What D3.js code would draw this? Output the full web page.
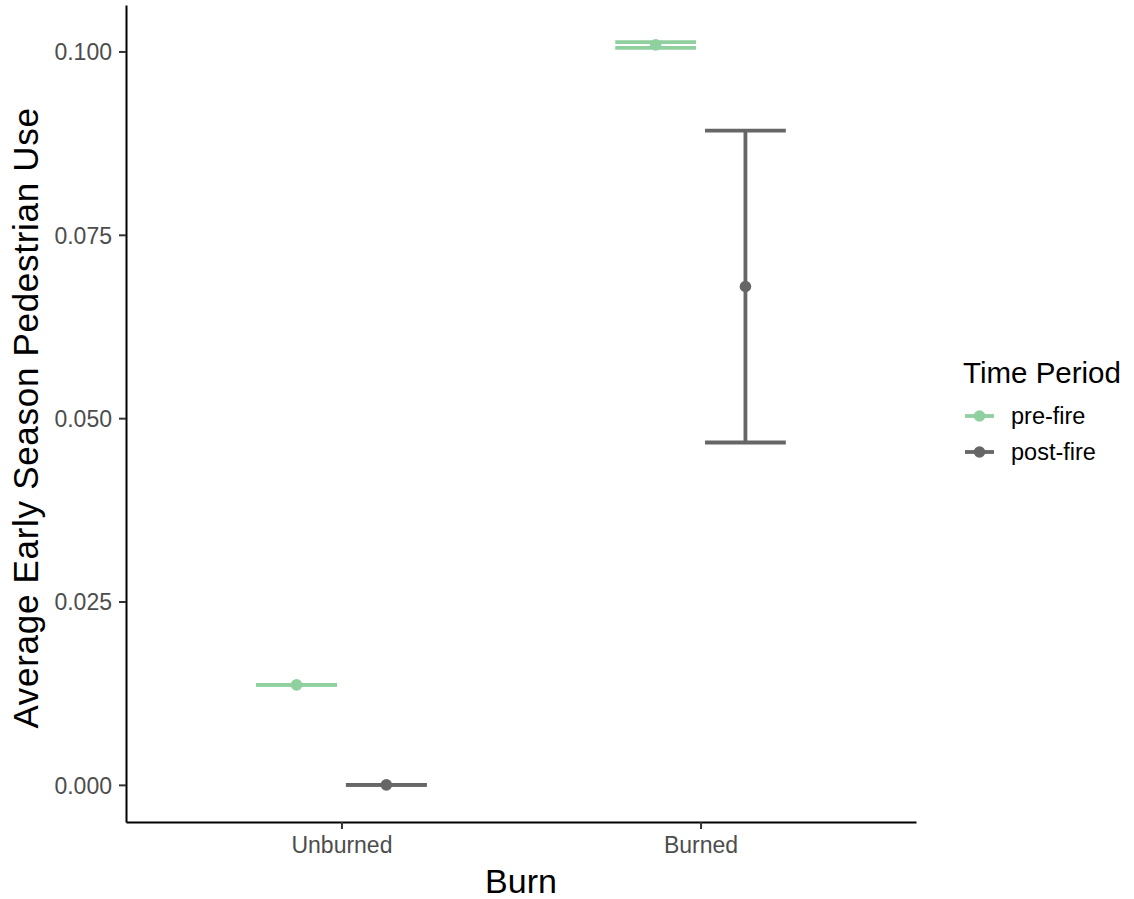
<!DOCTYPE html>
<html>
<head>
<meta charset="utf-8">
<script src="https://cdn.jsdelivr.net/npm/d3@7"></script>
<style>
  body { margin: 0; background: #fff; }
  svg { display: block; font-family: "Liberation Sans", Arial, sans-serif; }
</style>
</head>
<body>
<svg id="chart" width="1134" height="899"></svg>
<script>
// Burn categories and time periods
const categories = ["Unburned", "Burned"];
const periods = ["pre-fire", "post-fire"];

// Mean early-season pedestrian use with error-bar limits, per period
const meanPre = [0.01364, 0.10089];
const lowerPre = [0.01364, 0.10048];
const upperPre = [0.01364, 0.10127];

const meanPost = [0.00000, 0.06795];
const lowerPost = [0.00000, 0.04668];
const upperPost = [0.00000, 0.08920];

const yTicks = [0, 0.025, 0.05, 0.075, 0.1];
const periodColors = ["#90d09f", "#666666"];

const rows = [];
categories.forEach((c, i) => {
  rows.push({ burn: c, period: periods[0], mean: meanPre[i], lo: lowerPre[i], hi: upperPre[i] });
  rows.push({ burn: c, period: periods[1], mean: meanPost[i], lo: lowerPost[i], hi: upperPost[i] });
});

const svg = d3.select("#chart");
const panel = { left: 126, right: 916, top: 5, bottom: 822 };

const x = d3.scalePoint().domain(categories).range([panel.left, panel.right]).padding(0.6);
const step = x.step();
const dodge = d3.scalePoint().domain(periods).range([-0.125 * step, 0.125 * step]);
const capHalf = 0.1125 * step;

const allVals = rows.flatMap(r => [r.lo, r.hi, r.mean]);
const yMin = d3.min(allVals), yMax = d3.max(allVals);
const pad = (yMax - yMin) * 0.05;
const y = d3.scaleLinear().domain([yMin - pad, yMax + pad]).range([panel.bottom, panel.top]);
const color = d3.scaleOrdinal().domain(periods).range(periodColors);

// Axes
const yAxis = svg.append("g")
  .attr("transform", `translate(${panel.left},0)`)
  .call(d3.axisLeft(y).tickValues(yTicks).tickFormat(d3.format(".3f"))
    .tickSizeInner(7).tickSizeOuter(0).tickPadding(7));
const xAxis = svg.append("g")
  .attr("transform", `translate(0,${panel.bottom})`)
  .call(d3.axisBottom(x).tickSizeInner(7).tickSizeOuter(0).tickPadding(8));

[yAxis, xAxis].forEach(g => {
  g.select(".domain").attr("stroke", "#000").attr("stroke-width", 2);
  g.selectAll(".tick line").attr("stroke", "#333").attr("stroke-width", 2);
  g.selectAll(".tick text")
    .attr("fill", "#4d4d4d")
    .style("font-size", "23px")
    .style("font-family", "'Liberation Sans', Arial, sans-serif");
});
yAxis.selectAll(".tick text").attr("dy", "0.36em");
xAxis.selectAll(".tick text").attr("dy", "0.68em");

// Axis titles
svg.append("text")
  .attr("transform", `translate(38,418) rotate(-90)`)
  .attr("text-anchor", "middle")
  .style("font-size", "35px")
  .style("letter-spacing", "0.7px")
  .attr("fill", "#000")
  .text("Average Early Season Pedestrian Use");

svg.append("text")
  .attr("x", (panel.left + panel.right) / 2)
  .attr("y", 893)
  .attr("text-anchor", "middle")
  .style("font-size", "34px")
  .attr("fill", "#000")
  .text("Burn");

// Error bars and points
const marks = svg.append("g");
rows.forEach(r => {
  const cx = x(r.burn) + dodge(r.period);
  const col = color(r.period);
  const g = marks.append("g").attr("stroke", col).attr("stroke-width", 3.8).attr("fill", "none");
  g.append("line").attr("x1", cx - capHalf).attr("x2", cx + capHalf).attr("y1", y(r.hi)).attr("y2", y(r.hi));
  g.append("line").attr("x1", cx - capHalf).attr("x2", cx + capHalf).attr("y1", y(r.lo)).attr("y2", y(r.lo));
  g.append("line").attr("x1", cx).attr("x2", cx).attr("y1", y(r.hi)).attr("y2", y(r.lo));
  marks.append("circle").attr("cx", cx).attr("cy", y(r.mean)).attr("r", 5.8).attr("fill", col);
});

// Legend
const legend = svg.append("g");
legend.append("text")
  .attr("x", 963).attr("y", 383)
  .style("font-size", "29.5px")
  .attr("fill", "#000")
  .text("Time Period");

const keyY = [416, 452];
periods.forEach((p, i) => {
  const k = legend.append("g").attr("transform", `translate(0,${keyY[i]})`);
  k.append("line").attr("x1", 965).attr("x2", 994).attr("y1", 0).attr("y2", 0)
    .attr("stroke", color(p)).attr("stroke-width", 3.8);
  k.append("circle").attr("cx", 979.5).attr("cy", 0).attr("r", 5.8).attr("fill", color(p));
  k.append("text").attr("x", 1011).attr("y", 0).attr("dy", "0.36em")
    .style("font-size", "23.5px")
    .attr("fill", "#000")
    .text(p);
});
</script>
</body>
</html>
